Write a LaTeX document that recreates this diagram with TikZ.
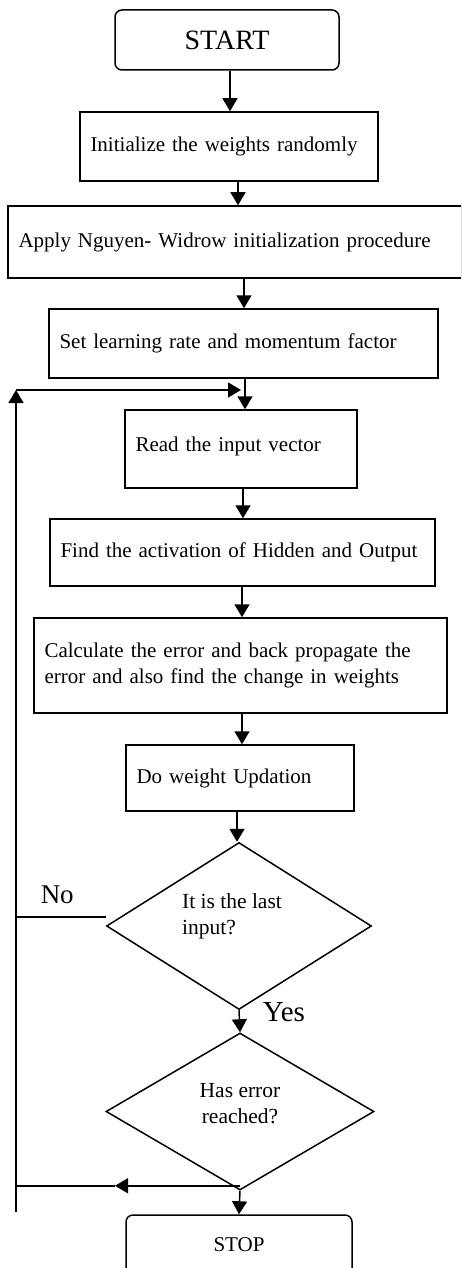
\documentclass[tikz,border=0pt]{standalone}
\usepackage{fontspec}
\setmainfont{Liberation Serif}
\usetikzlibrary{shapes.geometric,arrows.meta}

\begin{document}
\begin{tikzpicture}[x=1pt,y=-1pt,line width=1.5pt,
		box/.style={draw, line width=1.5pt, inner xsep=10.5pt, inner ysep=0pt, align=left, font=\fontsize{21}{26}\selectfont},
		term/.style={draw, line width=1.5pt, rounded corners=7pt, inner sep=0pt},
		decide/.style={draw, diamond, line width=1.5pt, inner sep=0pt, aspect=1.6},
		qtext/.style={inner sep=0pt, font=\fontsize{21.5}{26}\selectfont},
		arr/.style={-{Triangle[length=13pt,width=15pt]}},
		lbl/.style={inner sep=0pt, font=\fontsize{27}{30}\selectfont}]
		\useasboundingbox (0,0) rectangle (461,1268);
		\clip (0,0) rectangle (461,1268);
		\node[term, minimum width=224pt, minimum height=60pt, font=\fontsize{28}{30}\selectfont] (start) at (227,40) {START};
		\node[box, text width=277pt, minimum height=69pt] (init) at (229,146.5) {Initialize the weights randomly};
		\node[box, text width=433pt, minimum height=72pt] (apply) at (235,242) {Apply Nguyen- Widrow initialization procedure};
		\node[box, text width=368pt, minimum height=69pt] (set) at (243.5,343.5) {Set learning rate and momentum factor};
		\node[box, text width=211pt, minimum height=78pt] (read) at (241,449) {\raisebox{10pt}{Read the input vector}};
		\node[box, text width=364pt, minimum height=67pt] (find) at (242.5,552.5) {Find the activation of Hidden and Output};
		\node[box, text width=392pt, minimum height=95pt] (calc) at (240.5,665.5) {Calculate the error and back propagate the\\error and also find the change in weights};
		\node[box, text width=207pt, minimum height=66pt] (upd) at (240,778) {Do weight Updation};
		\node[decide, minimum width=265pt, minimum height=167pt] (last) at (239,926) {};
		\node[qtext, align=left] (lastq) at (232,916) {It is the last\\input?};
		\node[decide, minimum width=268pt, minimum height=157pt] (err) at (240,1111.5) {};
		\node[qtext, align=center] (errq) at (240,1104) {Has error\\reached?};
		\node[term, minimum width=226pt, minimum height=60pt, font=\fontsize{21}{26}\selectfont] (stop) at (239,1245) {STOP};
		\node[lbl, anchor=base west] (no) at (40,903) {No};
		\node[lbl, anchor=base west, font=\fontsize{29}{30}\selectfont] (yes) at (262,1021) {Yes};
		\draw[arr] ([xshift=3pt]start.south) -- ([xshift=3pt]start.south |- init.north);
		\draw[arr] ([xshift=9pt]init.south) -- ([xshift=9pt]init.south |- apply.north);
		\draw[arr] ([xshift=9pt]apply.south) -- ([xshift=9pt]apply.south |- set.north);
		\draw[arr] ([xshift=1.5pt]set.south) -- ([xshift=1.5pt]set.south |- read.north);
		\draw[arr] ([xshift=2pt]read.south) -- ([xshift=2pt]read.south |- find.north);
		\draw[arr] ([xshift=-0.5pt]find.south) -- ([xshift=-0.5pt]find.south |- calc.north);
		\draw[arr] ([xshift=1.5pt]calc.south) -- ([xshift=1.5pt]calc.south |- upd.north);
		\draw[arr] ([xshift=-3pt]upd.south) -- ([xshift=-3pt]upd.south |- last.north);
		\draw[arr] (last.south) -- (err.north);
		\draw[arr] (err.south) -- (stop.north);
		\coordinate (loopbot) at (16,1212);
		\coordinate (looptop) at (16,390);
		\draw[arr] (loopbot) -- (looptop);
		\draw[arr] (looptop) -- (looptop -| read.north);
		\draw ([yshift=9pt]last.west) -- ([yshift=9pt]last.west -| loopbot);
		\draw[arr] ([yshift=5pt]err.south) -- ++(-125,0) coordinate (back);
		\draw (back) -- (back -| loopbot);
\end{tikzpicture}
\end{document}
